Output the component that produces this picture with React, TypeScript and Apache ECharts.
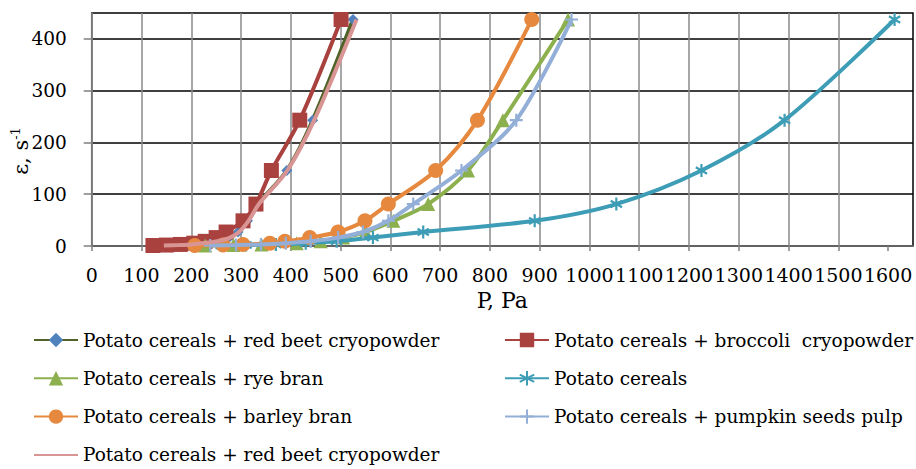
import React, { useEffect, useRef } from 'react';
import * as echarts from 'echarts';

// Shear rates (ε, s^-1) common to all series (lowest to highest)
const shearRates = [1, 1.8, 3, 5.4, 9, 16.2, 27, 48.6, 81, 145.8, 243, 437.4];

// Pressure P, Pa for each series, aligned to the end of shearRates
const pRedBeet = [140, 172, 198, 220, 248, 276, 294, 313, 334, 392, 444, 525];
const pBroccoli = [123, 150, 178, 205, 228, 250, 270, 304, 330, 361, 418, 501];
const pRyeBran = [228, 285, 341, 412, 460, 505, 550, 606, 676, 756, 826, 957];
const pPotato = [260, 310, 370, 430, 492, 565, 666, 890, 1054, 1225, 1392, 1613];
const pBarleyBran = [207, 264, 304, 358, 388, 438, 495, 549, 596, 691, 775, 884];
const pPumpkin = [238, 290, 340, 390, 440, 495, 545, 596, 646, 743, 853, 964];
const pRedBeet2 = [145, 175, 200, 222, 250, 278, 296, 315, 336, 393, 447, 532];

const seriesNames = [
  'Potato cereals + red beet cryopowder',
  'Potato cereals + broccoli  cryopowder',
  'Potato cereals + rye bran',
  'Potato cereals',
  'Potato cereals + barley bran',
  'Potato cereals + pumpkin seeds pulp',
  'Potato cereals + red beet cryopowder ',
];

const xTicks = [0, 100, 200, 300, 400, 500, 600, 700, 800, 900, 1000, 1100, 1200, 1300, 1400, 1500, 1600];
const yTicks = [0, 100, 200, 300, 400];

const FONT = 'DejaVu Serif';

function pairs(ps: number[]) {
  const off = shearRates.length - ps.length;
  return ps.map((p, i) => [p, shearRates[i + off]]);
}

const ASTERISK = 'path://M10,0L10,20M1.34,5L18.66,15M1.34,15L18.66,5';
const PLUS = 'path://M10,0L10,20M0,10L20,10';

export default function App() {
  const ref = useRef<HTMLDivElement>(null);
  useEffect(() => {
    if (!ref.current) return;
    const chart = echarts.init(ref.current, undefined, { renderer: 'svg' });
    const lineW = 4;
    const mk = (
      idx: number,
      ps: number[],
      lineColor: string,
      markColor: string,
      symbol: string,
      symbolSize: number,
      stroke = false
    ) => ({
      type: 'line',
      name: seriesNames[idx],
      data: pairs(ps),
      smooth: 0.3,
      symbol,
      symbolSize,
      symbolKeepAspect: true,
      showSymbol: symbolSize > 0,
      lineStyle: { color: lineColor, width: lineW },
      itemStyle: stroke
        ? { color: markColor, borderColor: markColor, borderWidth: 2.2 }
        : { color: markColor, borderWidth: 0 },
      emphasis: { disabled: true },
      z: 2 + idx,
    });

    const legendCommon = {
      orient: 'vertical',
      itemWidth: 44,
      itemHeight: 18,
      itemGap: 14.3,
      top: 328,
      padding: 0,
      height: 160,
      textStyle: { fontSize: 18.5, fontFamily: FONT, color: '#000', lineHeight: 24 },
      formatter: (n: string) => n.trim(),
      selectedMode: false,
    };

    chart.setOption({
      animation: false,
      backgroundColor: '#fff',
      textStyle: { fontFamily: FONT },
      grid: {
        left: 91.7,
        right: 3,
        top: 13,
        bottom: 223,
        show: true,
        borderColor: '#000',
        borderWidth: 1.5,
        containLabel: false,
      },
      xAxis: {
        type: 'value',
        min: 0,
        max: 1650,
        interval: 100,
        name: 'P, Pa',
        nameLocation: 'middle',
        nameGap: 43,
        nameTextStyle: { fontSize: 22, fontFamily: FONT, color: '#000' },
        axisLine: { show: true, lineStyle: { color: '#7f7f7f', width: 1.5 } },
        axisTick: { show: true, length: 5, customValues: xTicks, lineStyle: { color: '#7f7f7f', width: 1.5 } },
        axisLabel: {
          customValues: xTicks,
          fontSize: 19,
          fontFamily: FONT,
          color: '#000',
          margin: 19,
          hideOverlap: false,
          formatter: (v: number) => String(v),
        },
        splitLine: { show: true, showMaxLine: false, lineStyle: { color: '#8a8a8a', width: 1.5 } },
      },
      yAxis: {
        type: 'value',
        min: 0,
        max: 450,
        interval: 100,
        axisLine: { show: true, lineStyle: { color: '#7f7f7f', width: 1.5 } },
        axisTick: { show: true, length: 8, customValues: yTicks, lineStyle: { color: '#7f7f7f', width: 1.5 } },
        axisLabel: {
          customValues: yTicks,
          fontSize: 18.5,
          fontFamily: FONT,
          color: '#000',
          margin: 25,
          formatter: (v: number) => String(v),
        },
        splitLine: { show: true, lineStyle: { color: '#000', width: 1.5 } },
      },
      legend: [
        {
          ...legendCommon,
          left: 33,
          data: [
            seriesNames[0],
            seriesNames[2],
            seriesNames[4],
            { name: seriesNames[6], itemStyle: { opacity: 0 } },
          ],
        },
        { ...legendCommon, left: 504, data: [seriesNames[1], seriesNames[3], seriesNames[5]] },
      ],
      graphic: [
        {
          type: 'text',
          x: 21,
          y: 151,
          rotation: Math.PI / 2,
          style: {
            text: '{a|ε, s}{b|-1}',
            align: 'center',
            verticalAlign: 'middle',
            fill: '#000',
            fontFamily: FONT,
            rich: {
              a: { fontSize: 21, fontFamily: FONT, fill: '#000', lineHeight: 24 },
              b: { fontSize: 13, fontFamily: FONT, fill: '#000', verticalAlign: 'top' },
            },
          },
        },
      ],
      series: [
        mk(0, pRedBeet, '#4F6228', '#4F81BD', 'diamond', 11),
        mk(1, pBroccoli, '#A9423F', '#A9423F', 'rect', 15),
        mk(2, pRyeBran, '#8DB04E', '#8DB04E', 'triangle', 14),
        mk(3, pPotato, '#3E9DB6', '#3E9DB6', ASTERISK, 13, true),
        mk(4, pBarleyBran, '#E6893E', '#E6893E', 'circle', 15),
        mk(5, pPumpkin, '#93AFD8', '#93AFD8', PLUS, 13, true),
        mk(6, pRedBeet2, '#D99594', '#D99594', 'circle', 0),
      ],
    });
    return () => chart.dispose();
  }, []);
  return (
    <div
      ref={ref}
      style={{ position: 'fixed', left: 0, top: 0, width: 916, height: 469, background: '#fff' }}
    />
  );
}
